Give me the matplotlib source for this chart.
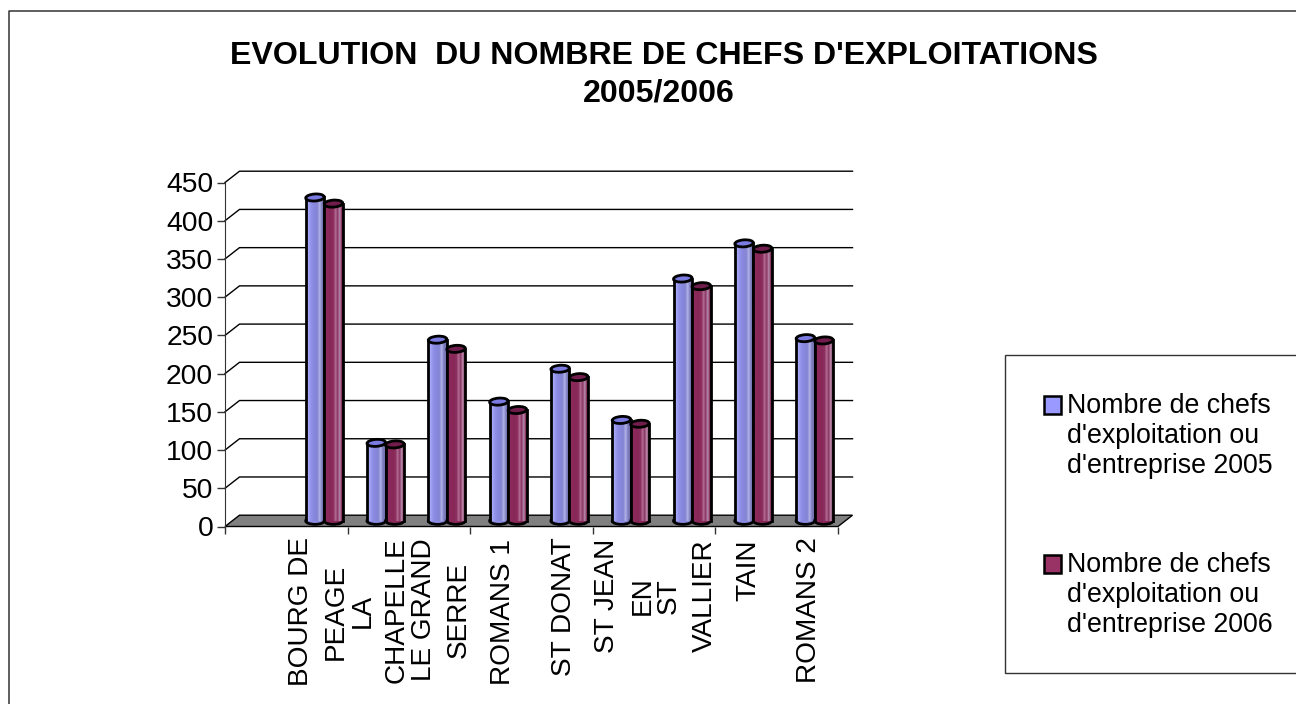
import matplotlib
matplotlib.use("Agg")
import numpy as np
from matplotlib import pyplot as plt
from matplotlib.colors import to_rgb
from matplotlib.lines import Line2D
from matplotlib.patches import Ellipse, Polygon, Rectangle
from matplotlib.transforms import IdentityTransform

W, H = 1296, 704

# data (the first slot of the axis is empty)
label_lines = ["BOURG DE", "PEAGE", "LA", "CHAPELLE", "LE GRAND", "SERRE", "ROMANS 1", "ST DONAT",
               "ST JEAN", "EN", "ST", "VALLIER", "TAIN", "ROMANS 2"]
values_2005 = [423, 102, 237, 156, 199, 132, 317, 363, 239]
values_2006 = [415, 100, 225, 145, 188, 127, 307, 356, 236]
y_ticks = [0, 50, 100, 150, 200, 250, 300, 350, 400, 450]
legend_2005 = "Nombre de chefs\nd'exploitation ou\nd'entreprise 2005"
legend_2006 = "Nombre de chefs\nd'exploitation ou\nd'entreprise 2006"
title = "EVOLUTION  DU NOMBRE DE CHEFS D'EXPLOITATIONS\n2005/2006"

# layout of the wrapped axis label lines, in pixels
label_px = [(300.5, 612), (336, 612), (363, 611), (397, 610), (424, 610), (459, 610), (503, 612), (564, 607),
            (607, 596), (643, 596), (669, 596), (705, 596), (748, 570), (809.5, 610)]

# shading across one cylinder, left to right
blue_shade = ["#b4b4ff", "#a0a0f4", "#9090e6", "#8a8ae0", "#8686da", "#8888d4", "#b0b0e8", "#8080c0", "#7070b0"]
red_shade = ["#8c2a5c", "#8c2a5c", "#882858", "#882858", "#8c3060", "#b06890", "#8c3a68", "#b88cac", "#7c2450"]

plt.rcParams['font.family'] = ['Liberation Sans', 'DejaVu Sans']

FONT = 26.7 * 72 / 100
LABEL_FONT = 28 * 72 / 100
TICK_FONT = 28.3 * 72 / 100
TITLE_FONT = 32.2 * 72 / 100


def fx(px):
    return px / W


def fy(py):
    return 1 - py / H


def draw_cylinder(ax, x_mid, value, shade, top_color):
    # body gradient with black sides, closed by two small ellipses
    x0, x1 = x_mid - bar_w / 2, x_mid + bar_w / 2
    y_base, y_top = depth_y / 2, value + depth_y / 2
    rgb = np.array([[to_rgb(c) for c in shade]])
    (px0, py0), (px1, py1) = ax.transData.transform([(x0, y_base), (x1, y_top)])
    ax.add_patch(Ellipse(((px0 + px1) / 2, py0), px1 - px0, 7, fc=shade[3], ec='black', lw=2,
                         transform=IdentityTransform(), clip_on=False, zorder=4))
    ax.imshow(rgb, extent=(x0, x1, y_base, y_top), aspect='auto', interpolation='bilinear', zorder=4, clip_on=False)
    ax.plot([x0, x0], [y_base, y_top], color='black', lw=2, zorder=4, clip_on=False)
    ax.plot([x1, x1], [y_base, y_top], color='black', lw=2, zorder=4, clip_on=False)
    ax.add_patch(Ellipse(((px0 + px1) / 2, py1), px1 - px0, 7, angle=4, fc=top_color, ec='black', lw=2,
                         transform=IdentityTransform(), clip_on=False, zorder=4))


fig = plt.figure(figsize=(W / 100, H / 100), dpi=100)
ax = fig.add_axes([fx(225), fy(526.5), 613 / W, 344 / H])
ax.set_xlim(0, 10)
ax.set_ylim(0, 450)

px_x = 10 / 613
px_y = 450 / 344
depth_x = 14.5 * px_x
depth_y = 11.3 * px_y
bar_w = 18.5 * px_x

for s in ['top', 'right', 'bottom']:
    ax.spines[s].set_visible(False)
ax.spines['left'].set_color('#333333')
ax.patch.set_visible(False)

ax.set_xticks(range(0, 11, 2))
ax.set_xticklabels([])
ax.set_yticks(y_ticks)
ax.tick_params(axis='y', labelsize=TICK_FONT, length=5.5, width=1, pad=3, color='#333333')
ax.tick_params(axis='x', length=5, width=1, color='#333333')

# floor, back grid lines and the diagonals joining them to the axis
ax.add_patch(Polygon([(0, 0), (10, 0), (10 + depth_x, depth_y), (depth_x, depth_y)], fc='#808080', ec='black',
                     lw=1, clip_on=False, zorder=2))
for v in y_ticks[1:]:
    ax.plot([0, depth_x, 10 + depth_x], [v, v + depth_y, v + depth_y], color='black', lw=1, clip_on=False, zorder=1)

for i, (v05, v06) in enumerate(zip(values_2005, values_2006)):
    mid = i + 1.5 + depth_x / 2
    draw_cylinder(ax, mid - bar_w / 2, v05, blue_shade, '#7a7ae0')
    draw_cylinder(ax, mid + bar_w / 2, v06, red_shade, '#701c4c')
ax.set_xlim(0, 10)
ax.set_ylim(0, 450)

for text, (px, py) in zip(label_lines, label_px):
    fig.text(fx(px), fy(py), text, rotation=90, ha='center', va='center', fontsize=LABEL_FONT, color='black')

fig.text(fx(664), fy(56), title.split("\n")[0], ha='center', va='center', fontsize=TITLE_FONT, fontweight='bold')
fig.text(fx(659), fy(93.5), title.split("\n")[1], ha='center', va='center', fontsize=TITLE_FONT, fontweight='bold')

# chart frame runs off the right and bottom of the picture
fig.add_artist(Line2D([fx(9), fx(9), 1], [0, fy(11), fy(11)], color='#333333', lw=1.1))

# legend box
fig.add_artist(Rectangle((fx(1004.5), fy(673)), 1, (673 - 355) / H, fc='white', ec='#333333', lw=1,
                         transform=fig.transFigure))
for y_swatch, text, color in [(396, legend_2005, '#9999ff'), (555, legend_2006, '#993366')]:
    fig.add_artist(Rectangle((fx(1043.5), fy(y_swatch + 17.5)), 17 / W, 17.5 / H, fc=color, ec='black', lw=1.8,
                             transform=fig.transFigure))
    fig.text(fx(1067), fy(y_swatch - 3), text, ha='left', va='top', fontsize=FONT, linespacing=1.2)

fig.savefig('out.png', dpi=100)
